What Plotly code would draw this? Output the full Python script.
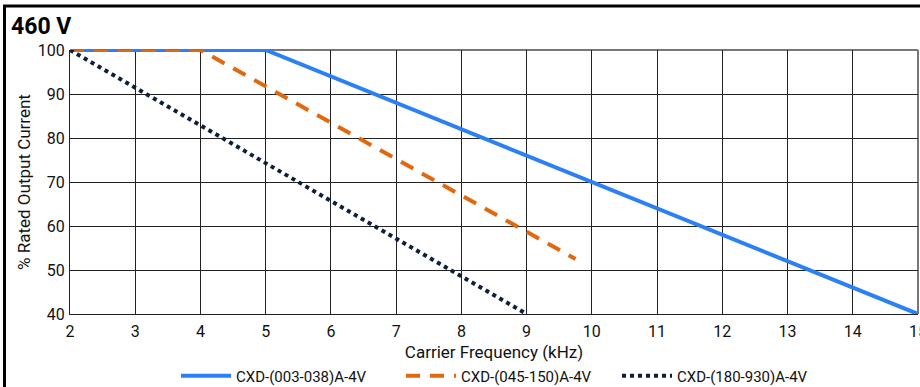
import plotly.graph_objects as go

# Derating curves: % rated output current vs. carrier frequency (kHz)
freq_a = [2, 5, 15]
current_a = [100, 100, 40]

freq_b = [2, 4, 9.75]
current_b = [100, 100, 52.5]

freq_c = [2, 9]
current_c = [100, 40]

names = ["CXD-(003-038)A-4V", "CXD-(045-150)A-4V", "CXD-(180-930)A-4V"]
colors = ["#2B80F5", "#E2680F", "#0D1F3D"]
dashes = ["solid", "14px,10px", "dot"]

x_ticks = list(range(2, 16))
y_ticks = [40, 50, 60, 70, 80, 90, 100]

FONT = "Roboto, Liberation Sans, sans-serif"

W, H = 920, 387
L, R, T, B = 70, 2, 50, 73
PW, PH = W - L - R, H - T - B


def px_x(p):
    return (p - L) / PW


def px_y(p):
    return (H - B - p) / PH


def font(size, **kw):
    return dict(family=FONT, size=size, color="#111", **kw)


fig = go.Figure()
series = [(freq_a, current_a), (freq_b, current_b), (freq_c, current_c)]
legend_ids = ["legend", "legend2", "legend3"]
for (fx, cy), name, col, dash, lg in zip(series, names, colors, dashes, legend_ids):
    fig.add_trace(go.Scatter(
        x=fx, y=cy, mode="lines", name=name,
        line=dict(color=col, width=4, dash=dash),
        legend=lg, showlegend=True, cliponaxis=False,
    ))

legend_px = [176, 401, 617]
legend_common = dict(
    orientation="h", yanchor="middle", xanchor="left",
    font=font(15), bgcolor="rgba(0,0,0,0)", itemwidth=50,
)
fig.update_layout(
    legend=dict(x=px_x(legend_px[0]), y=px_y(376), **legend_common),
    legend2=dict(x=px_x(legend_px[1]), y=px_y(376), **legend_common),
    legend3=dict(x=px_x(legend_px[2]), y=px_y(376), **legend_common),
)

fig.update_xaxes(
    range=[2, 15], tickvals=x_ticks, ticktext=[str(v) for v in x_ticks],
    showgrid=True, gridcolor="#222", gridwidth=1,
    showline=True, linecolor="#222", linewidth=1, mirror=False,
    zeroline=False, ticks="", ticklabelstandoff=3, ticklabeloverflow="allow",
    automargin=False,
    tickfont=font(16),
    title=dict(text="Carrier Frequency (kHz)", standoff=5, font=font(17)),
)
fig.update_yaxes(
    range=[40, 100], tickvals=y_ticks, ticktext=[str(v) for v in y_ticks],
    showgrid=True, gridcolor="#222", gridwidth=1,
    showline=True, linecolor="#222", linewidth=1,
    zeroline=False, ticks="", ticklabelstandoff=1, automargin=False,
    tickfont=font(16),
    title=dict(text="% Rated Output Current", standoff=2, font=font(17)),
)

# light border on the top and right edge of the plotting area
fig.add_shape(type="line", xref="paper", yref="paper", x0=0, x1=1, y0=1, y1=1,
              line=dict(color="#777", width=2), layer="below")
fig.add_shape(type="line", xref="paper", yref="paper", x0=1, x1=1, y0=0, y1=1,
              line=dict(color="#777", width=2), layer="below")

# outer frame: top and left rules
fig.add_shape(type="line", xref="paper", yref="paper",
              x0=px_x(3), x1=px_x(920), y0=px_y(6), y1=px_y(6),
              line=dict(color="#000", width=3))
fig.add_shape(type="line", xref="paper", yref="paper",
              x0=px_x(4.5), x1=px_x(4.5), y0=px_y(6), y1=px_y(390),
              line=dict(color="#000", width=3))

fig.add_annotation(
    text="<b>460 V</b>", xref="paper", yref="paper",
    x=px_x(9), y=px_y(27), xanchor="left", yanchor="middle",
    showarrow=False, font=dict(family=FONT, size=23, color="#000"),
)

fig.update_layout(
    width=W, height=H,
    margin=dict(l=L, r=R, t=T, b=B, autoexpand=False),
    paper_bgcolor="white", plot_bgcolor="white",
    showlegend=True,
)

fig.write_html("out.html")
